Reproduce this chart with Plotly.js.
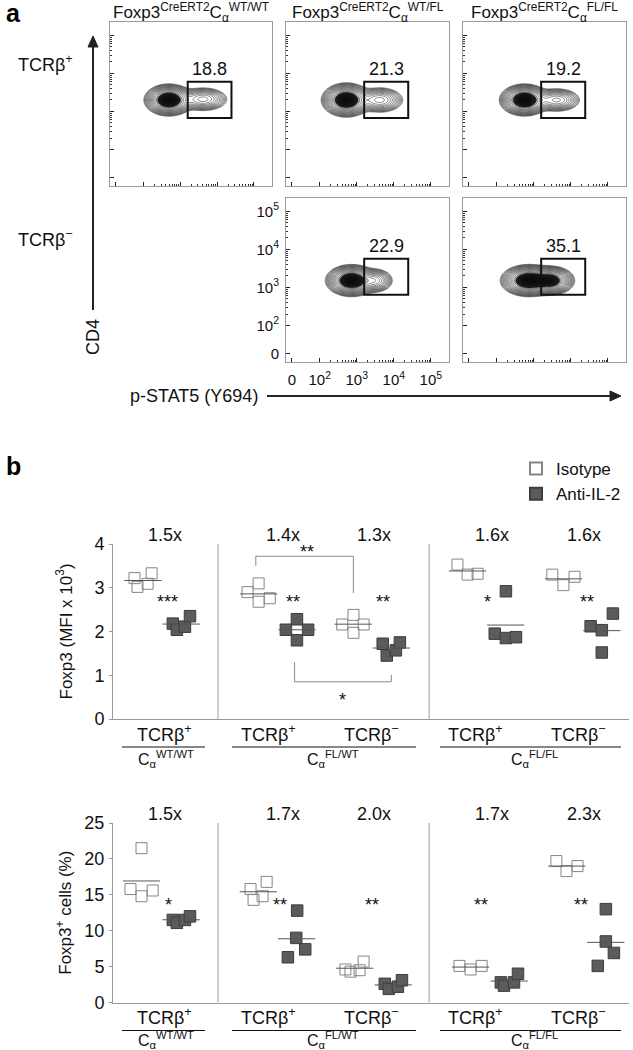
<!DOCTYPE html>
<html><head><meta charset="utf-8">
<script src="https://cdn.plot.ly/plotly-3.0.1.min.js"></script>
<style>html,body{margin:0;padding:0;background:#fff}#chart{width:633px;height:1050px}</style>
</head><body><div id="chart"></div>
<script>
// ================= DATA =================
// ---- Panel a : flow cytometry (p-STAT5 vs CD4) ----
const columnTitles = ['Foxp3<sup>CreERT2</sup>C<sub>α</sub><sup>WT/WT</sup>',
                      'Foxp3<sup>CreERT2</sup>C<sub>α</sub><sup>WT/FL</sup>',
                      'Foxp3<sup>CreERT2</sup>C<sub>α</sub><sup>FL/FL</sup>'];
const rowLabels = ['TCRβ<sup>+</sup>', 'TCRβ<sup>−</sup>'];
const flowPanelCol = [0, 1, 2, 1, 2];
const flowPanelRow = [0, 0, 0, 1, 1];
const gatePct = ['18.8', '21.3', '19.2', '22.9', '35.1'];
const gateSTAT5Lo = [1585, 1585, 1585, 1585, 1585];
const gateSTAT5Hi = [24500, 24500, 24500, 24500, 24500];
const gateCD4Lo = [672, 672, 672, 640, 640];
const gateCD4Hi = [5980, 5980, 5980, 5700, 5700];
// population descriptors (log10 fluorescence)
const coreX = [2.69, 2.72, 2.75, 2.86, 2.86];
const coreY = [3.30, 3.30, 3.30, 3.18, 3.18];
const coreSX = [0.24, 0.24, 0.24, 0.25, 0.27];
const coreSY = [0.15, 0.16, 0.15, 0.15, 0.15];
const shoulderX = [3.62, 3.62, 3.62, 3.50, 3.45];
const shoulderY = [3.32, 3.30, 3.30, 3.18, 3.18];
const shoulderSX = [0.28, 0.27, 0.27, 0.20, 0.24];
const shoulderSY = [0.13, 0.14, 0.13, 0.13, 0.14];
const shoulderW = [0.25, 0.25, 0.24, 0.25, 0.75];
const flowTickVals = [17.8, 1e2, 1e3, 1e4, 1e5];
const flowTickText = ['0', '10<sup>2</sup>', '10<sup>3</sup>', '10<sup>4</sup>', '10<sup>5</sup>'];

// ---- Panel b : dot plots ----
const groupLabels = ['TCRβ<sup>+</sup>', 'TCRβ<sup>+</sup>', 'TCRβ<sup>−</sup>', 'TCRβ<sup>+</sup>', 'TCRβ<sup>−</sup>'];
const genotypeLabels = ['C<sub>α</sub><sup>WT/WT</sup>', 'C<sub>α</sub><sup>FL/WT</sup>', 'C<sub>α</sub><sup>FL/FL</sup>'];
const foldMFI = ['1.5x', '1.4x', '1.3x', '1.6x', '1.6x'];
const foldPct = ['1.5x', '1.7x', '2.0x', '1.7x', '2.3x'];
const sigMFI = ['***', '**', '**', '*', '**'];
const sigPct = ['*', '**', '**', '**', '**'];
// Foxp3 MFI (x10^3)
const mfiIso = [[3.22, 3.02, 3.09, 3.33], [2.90, 3.10, 2.68, 2.76], [2.16, 2.38, 1.97, 2.16], [3.53, 3.30, 3.32], [3.30, 3.06, 3.25]];
const mfiAnti = [[2.18, 2.04, 2.11, 2.35], [2.04, 2.28, 1.80, 2.04], [1.72, 1.45, 1.57, 1.75], [2.92, 1.95, 1.85, 1.87], [2.12, 2.03, 2.41, 1.52]];
// Foxp3+ cells (%)
const pctIso = [[21.5, 15.8, 14.8, 15.6], [15.8, 14.3, 14.8, 16.8], [4.6, 4.3, 4.5, 5.7], [5.1, 4.6, 5.1], [19.7, 18.3, 19.0]];
const pctAnti = [[11.5, 11.1, 11.5, 12.0], [12.8, 9.0, 7.4, 6.3], [2.6, 1.9, 2.2, 3.1], [2.8, 2.35, 2.8, 4.0], [13.0, 8.5, 6.9, 5.1]];
// horizontal scatter of each point within its group (category units)
const mfiIsoJit = [[-0.295, -0.266, -0.168, -0.129], [-0.201, -0.094, -0.094, 0.014], [-0.285, -0.176, -0.176, -0.078], [-0.17, -0.072, 0.025], [-0.252, -0.145, -0.037]];
const mfiAntiJit = [[0.076, 0.115, 0.193, 0.242], [0.17, 0.277, 0.277, 0.385], [0.107, 0.146, 0.234, 0.273], [0.299, 0.191, 0.299, 0.396], [0.119, 0.227, 0.334, 0.227]];
const pctIsoJit = [[-0.227, -0.334, -0.227, -0.119], [-0.172, -0.143, -0.055, -0.016], [-0.254, -0.205, -0.117, -0.078], [-0.151, -0.043, 0.064], [-0.213, -0.115, -0.008]];
const pctAntiJit = [[0.076, 0.115, 0.193, 0.242], [0.279, 0.27, 0.357, 0.189], [0.127, 0.166, 0.254, 0.293], [0.25, 0.28, 0.377, 0.416], [0.266, 0.266, 0.344, 0.188]];

// ================= DRAWING =================
const W = 633, H = 1050;
const FONT = 'Liberation Sans, Arial, Helvetica, sans-serif';
const PX = v => v / W, PY = v => 1 - v / H;
const mean = a => a.reduce((s, v) => s + v, 0) / a.length;

const traces = [], shapes = [], annotations = [];
const layout = {
  width: W, height: H, margin: {l: 0, r: 0, t: 0, b: 0},
  paper_bgcolor: '#fff', plot_bgcolor: 'rgba(0,0,0,0)',
  font: {family: FONT, color: '#111', size: 16},
  showlegend: true,
  legend: {x: PX(516), y: PY(451), xanchor: 'left', yanchor: 'top', font: {size: 17, family: FONT},
           bgcolor: 'rgba(0,0,0,0)', tracegroupgap: 0, itemsizing: 'constant'}
};
function txt(text, x, y, opts) {
  annotations.push(Object.assign({text, x: PX(x), y: PY(y), xref: 'paper', yref: 'paper',
    showarrow: false, xanchor: 'center', yanchor: 'middle', font: {size: 17, family: FONT, color: '#111'}}, opts || {}));
}

// ---------- panel a ----------
const flowBoxX = [[110, 272], [286, 449], [463, 626]];
const flowBoxY = [[22, 186], [198, 362]];
const minorVals = [];
for (let k = 2; k < 5; k++) for (let m = 2; m < 10; m++) minorVals.push(m * Math.pow(10, k));

const gridX = [], gridY = [];
for (let v = 1.1; v <= 5.5; v += 0.03) gridX.push(v);
for (let v = 1.05; v <= 5.35; v += 0.03) gridY.push(v);

for (let i = 0; i < 5; i++) {
  const n = i + 1, col = flowPanelCol[i], row = flowPanelRow[i];
  const xb = flowBoxX[col], yb = flowBoxY[row];
  const lab = (row === 1 && col === 1);
  const common = {type: 'log', showline: true, mirror: true, linecolor: '#9a9a9a', linewidth: 1,
    ticks: 'inside', ticklen: 4, tickwidth: 1, tickcolor: '#222', tickmode: 'array',
    tickvals: flowTickVals, ticktext: flowTickText, showticklabels: lab,
    tickfont: {size: 15, family: FONT, color: '#111'},
    minor: {tickmode: 'array', tickvals: minorVals, ticks: 'inside', ticklen: 2, tickcolor: '#333', tickwidth: 1},
    showgrid: false, zeroline: false, fixedrange: true};
  layout['xaxis' + n] = Object.assign({}, common, {domain: [PX(xb[0]), PX(xb[1])], anchor: 'y' + n,
    range: [1.09, 5.49], ticklabelstandoff: 4});
  layout['yaxis' + n] = Object.assign({}, common, {domain: [PY(yb[1]), PY(yb[0])], anchor: 'x' + n,
    range: [1.04, 5.35], ticklabelstandoff: 3});

  const z = gridY.map(ly => gridX.map(lx => {
    const a = Math.exp(-(Math.pow(lx - coreX[i], 2) / (2 * coreSX[i] ** 2) + Math.pow(ly - coreY[i], 2) / (2 * coreSY[i] ** 2)));
    const b = shoulderW[i] * Math.exp(-(Math.pow(lx - shoulderX[i], 2) / (2 * shoulderSX[i] ** 2) + Math.pow(ly - shoulderY[i], 2) / (2 * shoulderSY[i] ** 2)));
    return Math.log10(a + b + 1e-9);
  }));
  const gx = gridX.map(v => Math.pow(10, v)), gy = gridY.map(v => Math.pow(10, v));
  traces.push({type: 'contour', x: gx, y: gy, z, xaxis: 'x' + n, yaxis: 'y' + n,
    showscale: false, hoverinfo: 'skip', showlegend: false,
    zauto: false, zmin: -1.75, zmax: 0,
    contours: {start: -1.75, end: -0.02, size: 0.1, coloring: 'fill', showlines: true},
    colorscale: [[0, 'rgba(255,255,255,0)'], [0.76, 'rgba(255,255,255,0)'], [0.82, 'rgba(35,35,35,1)'], [1, 'rgba(10,10,10,1)']],
    line: {color: '#151515', width: 0.5, smoothing: 1}});

  shapes.push({type: 'rect', xref: 'x' + n, yref: 'y' + n, x0: gateSTAT5Lo[i], x1: gateSTAT5Hi[i],
    y0: gateCD4Lo[i], y1: gateCD4Hi[i], line: {color: '#111', width: 2}});
  annotations.push({text: gatePct[i], xref: 'x' + n, yref: 'y' + n,
    x: (Math.log10(gateSTAT5Lo[i]) + Math.log10(gateSTAT5Hi[i])) / 2, y: Math.log10(gateCD4Hi[i]),
    yanchor: 'bottom', xanchor: 'center', yshift: 1, showarrow: false, font: {size: 18, family: FONT, color: '#111'}});
}
// column titles / row labels
const colCenters = [191, 367.5, 544.5];
columnTitles.forEach((t, c) => txt(t, colCenters[c], 12, {font: {size: 17, family: FONT, color: '#111'}}));
txt(rowLabels[0], 45, 63, {font: {size: 18, family: FONT, color: '#111'}});
txt(rowLabels[1], 45, 238, {font: {size: 18, family: FONT, color: '#111'}});
txt('<b>a</b>', 4, 13, {xanchor: 'left', font: {size: 25, family: FONT, color: '#000'}});
// axis arrows
shapes.push({type: 'line', xref: 'paper', yref: 'paper', x0: PX(93), x1: PX(93), y0: PY(310), y1: PY(46), line: {color: '#222', width: 2}});
shapes.push({type: 'path', xref: 'paper', yref: 'paper', path: `M ${PX(88)} ${PY(47)} L ${PX(93)} ${PY(36)} L ${PX(98)} ${PY(47)} Z`, fillcolor: '#222', line: {color: '#222', width: 1}});
txt('CD4', 93, 337, {textangle: -90, font: {size: 18, family: FONT, color: '#111'}});
shapes.push({type: 'line', xref: 'paper', yref: 'paper', x0: PX(267), x1: PX(612), y0: PY(396), y1: PY(396), line: {color: '#222', width: 2}});
shapes.push({type: 'path', xref: 'paper', yref: 'paper', path: `M ${PX(610)} ${PY(391)} L ${PX(621)} ${PY(396)} L ${PX(610)} ${PY(401)} Z`, fillcolor: '#222', line: {color: '#222', width: 1}});
txt('p-STAT5 (Y694)', 260, 396, {xanchor: 'right', font: {size: 18, family: FONT, color: '#111'}});

// ---------- panel b ----------
txt('<b>b</b>', 4, 466, {xanchor: 'left', font: {size: 25, family: FONT, color: '#000'}});
const dotPlots = [
  {n: 6, top: 544, bot: 719, max: 4, dt: 1, iso: mfiIso, anti: mfiAnti, isoJ: mfiIsoJit, antiJ: mfiAntiJit,
   fold: foldMFI, sig: sigMFI, sigY: 2.77, title: 'Foxp3 (MFI x 10<sup>3</sup>)', leg: true, geno: 40},
  {n: 7, top: 823, bot: 1002.5, max: 25, dt: 5, iso: pctIso, anti: pctAnti, isoJ: pctIsoJit, antiJ: pctAntiJit,
   fold: foldPct, sig: sigPct, sigY: 14.2, title: 'Foxp3<sup>+</sup> cells (%)', leg: false, geno: 37.5}
];
const foldOffset = [0, 0.14, 0.02, 0.16, 0.05];
const sigOffsets = {6: [0.027, 0.238, 0.107, 0.123, 0.08], 7: [0.037, 0.11, 0.0, 0.06, 0.03]};
const separators = [0.513, 2.556];
const genoSpan = [[122, 205], [232, 416], [440, 621]];
const genoCenter = [166, 333, 534];

dotPlots.forEach(p => {
  const xa = 'x' + p.n, ya = 'y' + p.n;
  layout['xaxis' + p.n] = {domain: [PX(113), PX(629)], anchor: ya, range: [-0.503, 4.49], showline: true,
    linecolor: '#999', linewidth: 1, ticks: '', showticklabels: false, showgrid: false, zeroline: false, fixedrange: true};
  const tv = []; for (let v = 0; v <= p.max; v += p.dt) tv.push(v);
  layout['yaxis' + p.n] = {domain: [PY(p.bot), PY(p.top)], anchor: xa, range: [0, p.max], tickmode: 'array', tickvals: tv,
    ticks: 'outside', ticklen: 3, tickcolor: '#999', showline: true, linecolor: '#999', linewidth: 1,
    tickfont: {size: 18, family: FONT, color: '#111'}, showgrid: false, zeroline: false, fixedrange: true, ticklabelstandoff: 1};

  const xi = [], yi = [], xa2 = [], ya2 = [], mx = [], my = [];
  p.iso.forEach((vals, g) => {
    vals.forEach((v, k) => { xi.push(g + p.isoJ[g][k]); yi.push(v); });
    const c = g + mean(p.isoJ[g]), m = mean(vals);
    mx.push(c - 0.18, c + 0.18, null); my.push(m, m, null);
  });
  p.anti.forEach((vals, g) => {
    vals.forEach((v, k) => { xa2.push(g + p.antiJ[g][k]); ya2.push(v); });
    const c = g + mean(p.antiJ[g]), m = mean(vals);
    mx.push(c - 0.18, c + 0.18, null); my.push(m, m, null);
  });
  traces.push({type: 'scatter', mode: 'markers', name: 'Isotype', x: xi, y: yi, xaxis: xa, yaxis: ya,
    showlegend: p.leg, hoverinfo: 'skip', cliponaxis: false,
    marker: {symbol: 'square', size: 11, color: 'rgba(255,255,255,0)', line: {color: '#858585', width: 1}}});
  traces.push({type: 'scatter', mode: 'markers', name: 'Anti-IL-2', x: xa2, y: ya2, xaxis: xa, yaxis: ya,
    showlegend: p.leg, hoverinfo: 'skip', cliponaxis: false,
    marker: {symbol: 'square', size: 11.5, color: '#5b5b5b', line: {color: '#3d3d3d', width: 1}}});
  traces.push({type: 'scatter', mode: 'lines', x: mx, y: my, xaxis: xa, yaxis: ya, showlegend: false,
    hoverinfo: 'skip', line: {color: '#555', width: 1}});

  separators.forEach(s => shapes.push({type: 'line', xref: xa, yref: ya, x0: s, x1: s, y0: 0, y1: p.max,
    line: {color: '#999', width: 1}}));

  for (let g = 0; g < 5; g++) {
    annotations.push({text: p.fold[g], xref: xa, yref: 'paper', x: g + foldOffset[g], y: PY(p.top - 9),
      showarrow: false, xanchor: 'center', yanchor: 'middle', font: {size: 18, family: FONT, color: '#111'}});
    annotations.push({text: p.sig[g], xref: xa, yref: ya, x: g + sigOffsets[p.n][g], y: p.sigY, yshift: -4,
      showarrow: false, xanchor: 'center', yanchor: 'middle', font: {size: 18, family: FONT, color: '#111'}});
    annotations.push({text: groupLabels[g], xref: xa, yref: 'paper', x: g, y: PY(p.bot + 14),
      showarrow: false, xanchor: 'center', yanchor: 'middle', font: {size: 18, family: FONT, color: '#111'}});
  }
  genoSpan.forEach((s, k) => {
    shapes.push({type: 'line', xref: 'paper', yref: 'paper', x0: PX(s[0]), x1: PX(s[1]),
      y0: PY(p.bot + 28), y1: PY(p.bot + 28), line: {color: '#111', width: 1}});
    txt(genotypeLabels[k], genoCenter[k], p.bot + p.geno, {font: {size: 16, family: FONT, color: '#111'}});
  });
  txt(p.title, 64, (p.top + p.bot) / 2, {textangle: -90, font: {size: 17, family: FONT, color: '#111'}});
});

// comparison brackets (top plot)
const br = {color: '#8a8a8a', width: 1};
shapes.push({type: 'path', xref: 'x6', yref: 'y6', path: 'M 0.879 3.5 L 0.879 3.72 L 1.823 3.72 L 1.823 2.88', line: br});
shapes.push({type: 'path', xref: 'x6', yref: 'y6', path: 'M 1.254 1.3 L 1.254 0.85 L 2.19 0.85 L 2.19 1.01', line: br});
annotations.push({text: '**', xref: 'x6', yref: 'y6', x: 1.379, y: 3.91, yshift: -4, showarrow: false, font: {size: 18, family: FONT, color: '#111'}});
annotations.push({text: '*', xref: 'x6', yref: 'y6', x: 1.717, y: 0.52, yshift: -4, showarrow: false, font: {size: 18, family: FONT, color: '#111'}});

layout.shapes = shapes;
layout.annotations = annotations;
Plotly.newPlot('chart', traces, layout, {staticPlot: true, displayModeBar: false});
</script>
</body></html>
